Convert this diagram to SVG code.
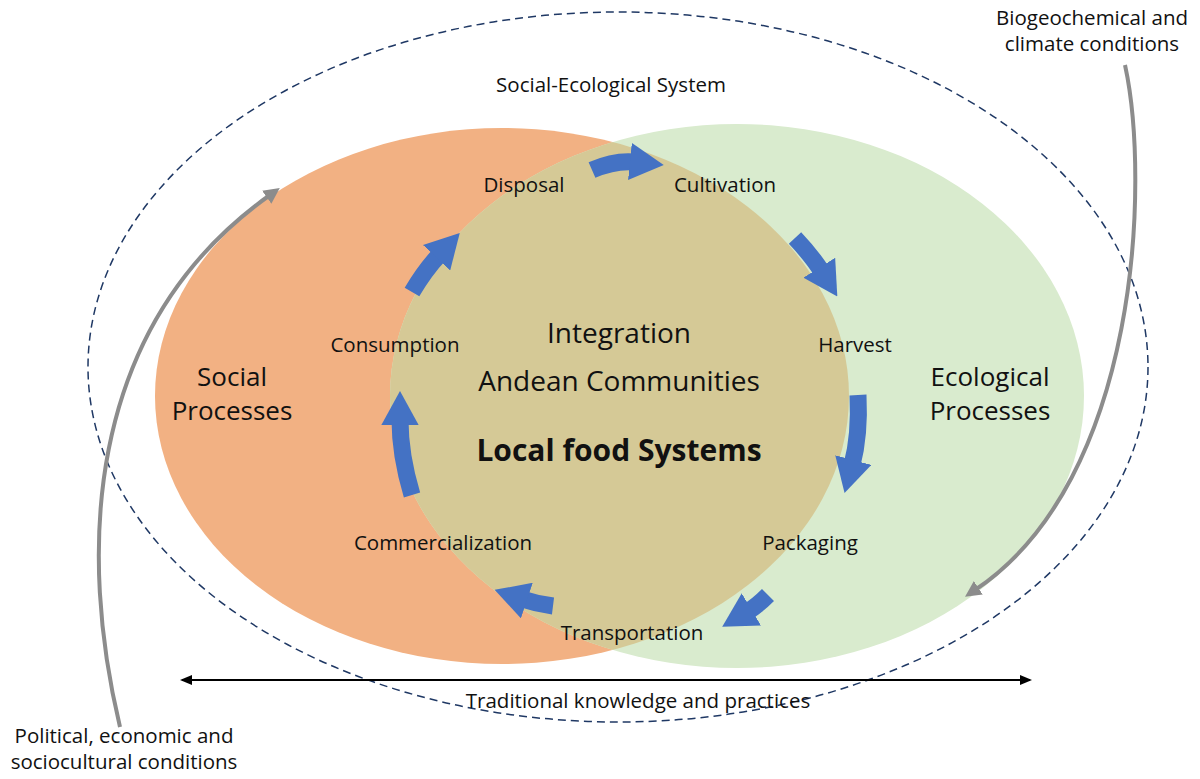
<svg xmlns="http://www.w3.org/2000/svg" width="1200" height="779" viewBox="0 0 1200 779">
<style>
text{font-family:"Open Sans","Liberation Sans",sans-serif;fill:#111}
.s{font-size:20.5px}.m{font-size:28px}.p{font-size:26px}.b{font-size:30px;font-weight:bold}
.blue{fill:none;stroke:#4472c4;stroke-width:17}
.gray{fill:none;stroke:#8c8c8c;stroke-width:4}
</style>
<defs>
<marker id="ba" markerWidth="2" markerHeight="2.2" refX="0.3" refY="1.1" orient="auto"><path d="M0,0 L2,1.1 L0,2.2 Z" fill="#4472c4"/></marker>
<marker id="ga" markerWidth="4" markerHeight="4" refX="1" refY="2" orient="auto"><path d="M0,0 L4,2 L0,4 Z" fill="#8c8c8c"/></marker>
<marker id="ka" markerWidth="12" markerHeight="10" refX="10" refY="5" orient="auto-start-reverse" markerUnits="userSpaceOnUse"><path d="M0,0 L12,5 L0,10 Z" fill="#000"/></marker>
<clipPath id="gc"><ellipse cx="737" cy="396" rx="347" ry="272"/></clipPath>
</defs>
<g id="outer"><ellipse cx="618" cy="367" rx="530" ry="355" fill="none" stroke="#1f3864" stroke-width="1.5" stroke-dasharray="8,5"/></g>
<g id="social"><ellipse cx="502" cy="396" rx="347" ry="268" fill="#f2b183"/></g>
<g id="ecological"><ellipse cx="737" cy="396" rx="347" ry="272" fill="#d9ebce"/></g>
<g id="overlap"><ellipse cx="502" cy="396" rx="347" ry="268" fill="#d5c996" clip-path="url(#gc)"/></g>
<g id="connectors">
<path class="blue" d="M592,170 Q615,160 635,162" marker-end="url(#ba)"/>
<path class="blue" d="M795,238 Q812,256 822,272" marker-end="url(#ba)"/>
<path class="blue" d="M858,395 Q860,435 852,465" marker-end="url(#ba)"/>
<path class="blue" d="M768,595 Q757,606 747,612" marker-end="url(#ba)"/>
<path class="blue" d="M553,606 Q537,604 522,599" marker-end="url(#ba)"/>
<path class="blue" d="M412,495 Q400,455 400,420" marker-end="url(#ba)"/>
<path class="blue" d="M412,292 Q425,270 440,254" marker-end="url(#ba)"/>
<path class="gray" d="M120,727 C80,560 80,330 270,195" marker-end="url(#ga)"/>
<path class="gray" d="M1125,65 C1150,180 1140,480 975,590" marker-end="url(#ga)"/>
<line x1="182" y1="680" x2="1030" y2="680" stroke="#000" stroke-width="2" marker-start="url(#ka)" marker-end="url(#ka)"/>
</g>
<g id="labels">
<text class="s" x="611" y="92" text-anchor="middle">Social-Ecological System</text>
<text class="s" x="1092" y="25" text-anchor="middle">Biogeochemical and</text>
<text class="s" x="1092" y="51" text-anchor="middle">climate conditions</text>
<text class="s" x="124" y="743" text-anchor="middle">Political, economic and</text>
<text class="s" x="124" y="769" text-anchor="middle">sociocultural conditions</text>
<text class="s" x="524" y="192" text-anchor="middle">Disposal</text>
<text class="s" x="725" y="192" text-anchor="middle">Cultivation</text>
<text class="s" x="855" y="352" text-anchor="middle">Harvest</text>
<text class="s" x="810" y="550" text-anchor="middle">Packaging</text>
<text class="s" x="632" y="640" text-anchor="middle">Transportation</text>
<text class="s" x="443" y="550" text-anchor="middle">Commercialization</text>
<text class="s" x="395" y="352" text-anchor="middle">Consumption</text>
<text class="p" x="232" y="386" text-anchor="middle">Social</text>
<text class="p" x="232" y="420" text-anchor="middle">Processes</text>
<text class="p" x="990" y="386" text-anchor="middle">Ecological</text>
<text class="p" x="990" y="420" text-anchor="middle">Processes</text>
<text class="m" x="619" y="343" text-anchor="middle">Integration</text>
<text class="m" x="619" y="391" text-anchor="middle">Andean Communities</text>
<text class="b" x="619" y="461" text-anchor="middle">Local food Systems</text>
<text class="s" x="638" y="708" text-anchor="middle">Traditional knowledge and practices</text>
</g>
</svg>
